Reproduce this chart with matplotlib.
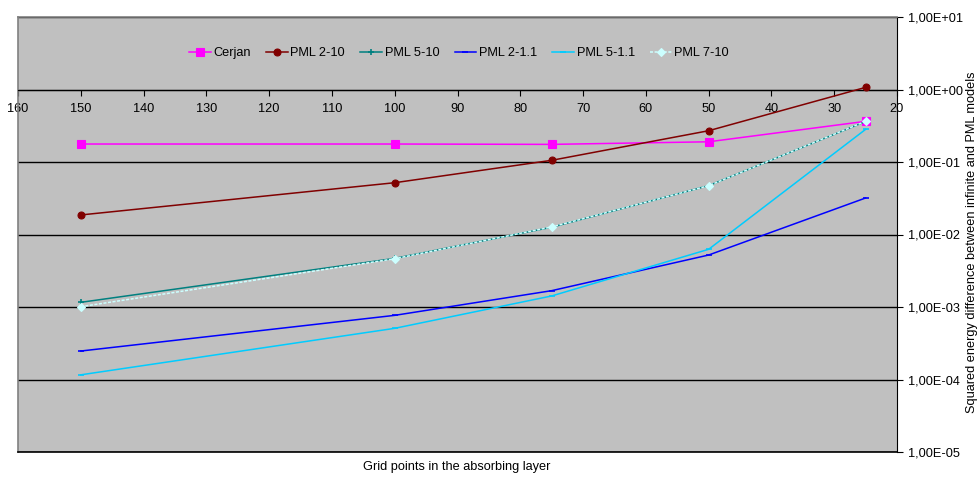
import numpy as np
import matplotlib
matplotlib.use("Agg")
import matplotlib.pyplot as plt
from matplotlib.ticker import FixedLocator, FuncFormatter, NullLocator

plt.rcParams["font.family"] = ["Liberation Sans", "DejaVu Sans"]

# grid points in the absorbing layer
grid_points = [150, 100, 75, 50, 25]

# squared energy difference
cerjan   = [0.177, 0.177, 0.175, 0.19, 0.364]
pml_2_10 = [0.0186, 0.0518, 0.1055, 0.27, 1.07]
pml_5_10 = [0.00116, 0.00468, 0.0126, 0.0472, 0.362]
pml_2_11 = [0.000247, 0.000767, 0.00168, 0.00521, 0.0319]
pml_5_11 = [0.000116, 0.000508, 0.00142, 0.00625, 0.282]
pml_7_10 = [0.00101, 0.00463, 0.0127, 0.0471, 0.364]

series = [
    ("Cerjan",    cerjan,   "#FF00FF", "s", 6, "-"),
    ("PML 2-10",  pml_2_10, "#800000", "o", 5, "-"),
    ("PML 5-10",  pml_5_10, "#008080", "+", 5, "-"),
    ("PML 2-1.1", pml_2_11, "#0000FF", "_", 4, "-"),
    ("PML 5-1.1", pml_5_11, "#00CCFF", "_", 5, "-"),
    ("PML 7-10",  pml_7_10, "#CCFFFF", "D", 4, (0, (2, 1))),
]

x_ticks = list(range(160, 19, -10))
y_ticks = [1e-5, 1e-4, 1e-3, 1e-2, 1e-1, 1e0, 1e1]

FS = 9.2

fig = plt.figure(figsize=(9.78, 4.83), dpi=100)
ax = fig.add_axes([18 / 978, 31 / 483, 879 / 978, 435 / 483])
ax.set_facecolor("#C0C0C0")

for label, vals, col, mk, ms, ls in series:
    mew = 1.2 if mk in "+_" else 0.8
    ax.plot(grid_points, vals, color=col, lw=1.1, ls=ls, marker=mk, ms=ms,
            mew=mew, mec=col, mfc=col, label=label, zorder=3)

ax.set_yscale("log")
ax.set_ylim(1e-5, 1e1)
ax.set_xlim(160, 20)

ax.yaxis.set_major_locator(FixedLocator(y_ticks))
ax.yaxis.set_minor_locator(NullLocator())
ax.yaxis.set_major_formatter(FuncFormatter(
    lambda v, p: ("%.2E" % v).replace(".", ",")))
ax.yaxis.tick_right()
ax.tick_params(axis="y", direction="out", length=4, labelsize=FS, pad=4)
ax.grid(axis="y", color="black", lw=1.0)

ax.xaxis.set_major_locator(FixedLocator(x_ticks))
ax.spines["bottom"].set_position(("data", 1.0))
ax.tick_params(axis="x", direction="out", length=4, labelsize=FS, pad=6)

for s in ("left", "top"):
    ax.spines[s].set_color("#808080")
    ax.spines[s].set_linewidth(1.2)
ax.spines["right"].set_color("black")
ax.spines["bottom"].set_color("black")

fig.text(972 / 978, 1 - 242 / 483,
         "Squared energy difference between infinite and PML models",
         rotation=90, ha="center", va="center", fontsize=9.2)

fig.text(457 / 978, 1 - 467 / 483, "Grid points in the absorbing layer",
         ha="center", va="center", fontsize=FS)

# bottom plot-area border (the x spine is moved to y=1)
ax.axhline(1e-5, color="black", lw=1.2, clip_on=False, zorder=4)

ax.legend(loc="center", bbox_to_anchor=((459 - 18) / 879, 1 - 36 / 435),
          ncol=6, frameon=False, fontsize=FS, handlelength=1.7,
          handletextpad=0.2, columnspacing=1.2)

fig.savefig("out.png", dpi=100)
